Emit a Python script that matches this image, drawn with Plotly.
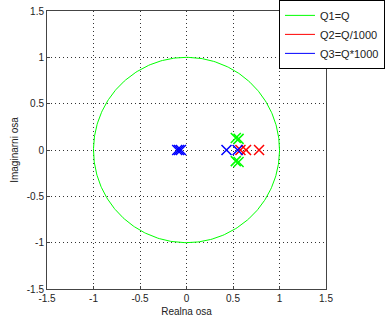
import numpy as np
import plotly.graph_objects as go

# Poles
q1_re = [0.53, 0.56, 0.53, 0.56]
q1_im = [0.13, 0.12, -0.12, -0.13]
q2_re = [0.58, 0.64, 0.78]
q2_im = [0.0, 0.0, 0.0]
q3_re = [-0.10, -0.08, -0.06, 0.43, 0.55]
q3_im = [0.0, 0.0, 0.0, 0.0, 0.0]
legend_names = ["Q1=Q", "Q2=Q/1000", "Q3=Q*1000"]
colors = ["#00ff00", "#ff0000", "#0000ff"]
ticks = [-1.5, -1, -0.5, 0, 0.5, 1, 1.5]
tick_text = ["-1.5", "-1", "-0.5", "0", "0.5", "1", "1.5"]

theta = np.linspace(0, 2 * np.pi, 361)
fig = go.Figure()
fig.add_trace(go.Scatter(x=np.cos(theta), y=np.sin(theta), mode="lines",
                         line=dict(color=colors[0], width=1), showlegend=False, hoverinfo="skip"))
for re, im, c in [(q1_re, q1_im, colors[0]), (q2_re, q2_im, colors[1]), (q3_re, q3_im, colors[2])]:
    fig.add_trace(go.Scatter(x=re, y=im, mode="markers", showlegend=False,
                             marker=dict(symbol="x-thin-open", size=10, color=c,
                                         line=dict(color=c, width=1.5))))
for name, c in zip(legend_names, colors):
    fig.add_trace(go.Scatter(x=[None], y=[None], mode="lines", name=name,
                             line=dict(color=c, width=1)))

font = dict(family="Liberation Sans, Arial", size=10, color="#222222")
axis_common = dict(range=[-1.5, 1.5], tickvals=ticks, ticktext=tick_text,
                   showgrid=True, gridcolor="#333333", griddash="1px,3px", gridwidth=1,
                   zeroline=False, showline=True, linecolor="#444444", linewidth=1,
                   mirror=True, ticks="inside", ticklen=3, tickcolor="#444444",
                   tickfont=font)
fig.update_layout(
    width=385, height=322,
    margin=dict(l=47, r=59, t=11, b=33, autoexpand=False),
    paper_bgcolor="white", plot_bgcolor="white",
    xaxis=dict(axis_common, title=dict(text="Realna osa", standoff=4, font=font)),
    yaxis=dict(axis_common, title=dict(text="Imaginarni osa", standoff=6, font=font)),
    legend=dict(x=0.8315, y=1.04, xanchor="left", yanchor="top",
                bgcolor="white", bordercolor="#000000", borderwidth=1,
                font=dict(family="Liberation Sans, Arial", size=11, color="#222222"),
                tracegroupgap=0, itemwidth=30),
    showlegend=True,
)
fig.write_html("out.html")
